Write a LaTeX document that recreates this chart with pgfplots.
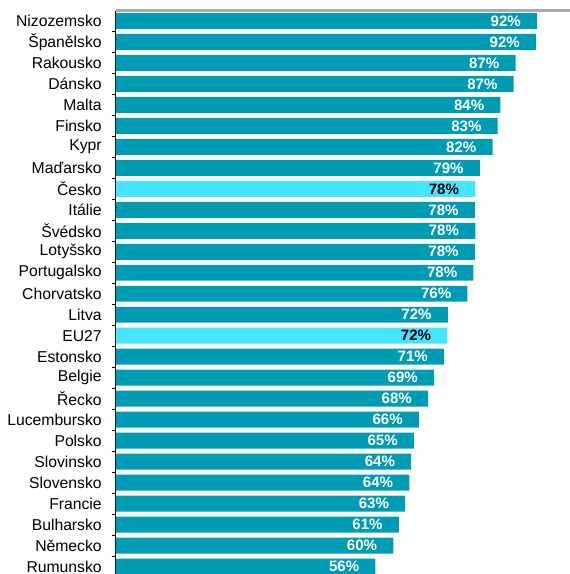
\documentclass[border=0pt]{standalone}
\usepackage{pgfplots}
\pgfplotsset{compat=1.18}
\usepackage{pgfplotstable}
\usepackage{fontspec}
\setmainfont{Liberation Sans}

\definecolor{barteal}{HTML}{009CB4}
\definecolor{barhl}{HTML}{45E4FF}
\definecolor{topgray}{HTML}{ABABAB}

% y = position (Rumunsko at 0), val = bar length, lab = printed value
\pgfplotstableread{
y  val  lab
26 92.0 92
25 91.8 92
24 87.3 87
23 86.9 87
22 84.0 84
21 83.4 83
20 82.3 82
19 79.5 79
17 78.4 78
16 78.5 78
15 78.4 78
14 78.1 78
13 76.8 76
12 72.5 72
10 71.7 71
9  69.5 69
8  68.2 68
7  66.2 66
6  65.1 65
5  64.5 64
4  64.1 64
3  63.2 63
2  61.8 61
1  60.6 60
0  56.7 56
}\datamain

% highlighted bars: Česko and EU27
\pgfplotstableread{
y  val  lab
18 78.5 78
11 72.4 72
}\datahl

\begin{document}
\begin{tikzpicture}
\begin{axis}[
    scale only axis,
    width=340.5pt, height=422.25pt,
    xbar, bar width=0.76, bar shift=0pt,
    xmin=0, xmax=99.2,
    ymin=-0.357, ymax=26.476,
    axis y line*=left, axis x line=none,
    axis line style={-},
    y axis line style={black, line width=0.75pt},
    xtick=\empty,
    ytick={0,...,26},
    yticklabels={Rumunsko,Německo,Bulharsko,Francie,Slovensko,Slovinsko,Polsko,
      Lucembursko,Řecko,Belgie,Estonsko,EU27,Litva,Chorvatsko,Portugalsko,
      Lotyšsko,Švédsko,Itálie,Česko,Maďarsko,Kypr,Finsko,Malta,Dánsko,
      Rakousko,Španělsko,Nizozemsko},
    minor ytick={0.5,1.5,...,25.5},
    tick align=outside,
    major tick length=0pt, minor tick length=3pt,
    tick style={black, line width=0.75pt},
    yticklabel style={inner sep=0pt, xshift=-10.5pt,
      font=\fontsize{11.8}{14}\selectfont},
    point meta=explicit symbolic,
    nodes near coords={\pgfplotspointmeta\%},
    every node near coord/.append style={anchor=east, xshift=-12pt,
      inner sep=0pt, font=\fontsize{11.3}{13}\selectfont\bfseries},
    clip=true,
]
\addplot[fill=barteal, draw=none,
  every node near coord/.append style={text=white}]
  table[x=val, y=y, meta=lab] {\datamain};
\addplot[fill=barhl, draw=none,
  every node near coord/.append style={text=black}]
  table[x=val, y=y, meta=lab] {\datahl};
\coordinate (sw) at (rel axis cs:0,0);
\coordinate (ne) at (rel axis cs:1,1);
\end{axis}
% top frame line of the plot area
\draw[topgray, line width=1.6pt] ([yshift=0.4pt]sw |- ne) -- ([yshift=0.4pt]ne);
\pgfresetboundingbox
\path[use as bounding box] ([xshift=-87pt]sw) rectangle ([yshift=8.25pt]ne);
\end{tikzpicture}
\end{document}
